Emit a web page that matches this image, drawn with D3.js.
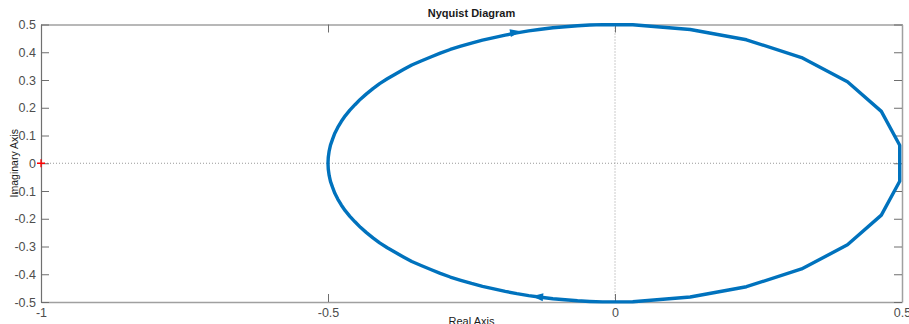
<!DOCTYPE html>
<html><head><meta charset="utf-8">
<script src="https://cdn.jsdelivr.net/npm/d3@7"></script>
<style>body{margin:0;background:#fff;}svg{display:block;}</style>
</head><body>
<script>
// Upper branch (negative frequencies), from -0.5 to the right end
const upperRe = [-0.5,-0.4995,-0.498,-0.4957,-0.492,-0.4881,-0.483,-0.4769,-0.470,-0.4619,-0.453,-0.4435,-0.433,-0.4217,-0.410,-0.3967,-0.383,-0.3686,-0.354,-0.3378,-0.321,-0.3044,-0.287,-0.2687,-0.250,-0.2309,-0.211,-0.1913,-0.171,-0.1504,-0.129,-0.1082,-0.087,-0.0653,-0.044,-0.0218,0.031,0.131,0.229,0.325,0.405,0.464,0.496];
const upperIm = [0,0.0218,0.044,0.0653,0.087,0.1082,0.129,0.1504,0.171,0.1913,0.211,0.2309,0.250,0.2687,0.287,0.3044,0.321,0.3378,0.354,0.3686,0.383,0.3967,0.410,0.4217,0.433,0.4435,0.453,0.4619,0.470,0.4769,0.483,0.4881,0.492,0.4957,0.498,0.4995,0.499,0.482,0.445,0.381,0.294,0.187,0.065];
// Lower branch (positive frequencies), from the right end back to -0.5
const lowerRe = [0.496,0.464,0.405,0.325,0.229,0.131,0.031,-0.0218,-0.044,-0.0653,-0.087,-0.1082,-0.129,-0.1504,-0.171,-0.1913,-0.211,-0.2309,-0.250,-0.2687,-0.287,-0.3044,-0.321,-0.3378,-0.354,-0.3686,-0.383,-0.3967,-0.410,-0.4217,-0.433,-0.4435,-0.453,-0.4619,-0.470,-0.4769,-0.483,-0.4881,-0.492,-0.4957,-0.498,-0.4995,-0.5];
const lowerIm = [-0.065,-0.187,-0.294,-0.381,-0.445,-0.482,-0.499,-0.4995,-0.498,-0.4957,-0.492,-0.4881,-0.483,-0.4769,-0.470,-0.4619,-0.453,-0.4435,-0.433,-0.4217,-0.410,-0.3967,-0.383,-0.3686,-0.354,-0.3378,-0.321,-0.3044,-0.287,-0.2687,-0.250,-0.2309,-0.211,-0.1913,-0.171,-0.1504,-0.129,-0.1082,-0.087,-0.0653,-0.044,-0.0218,0];
const xTicks = [-1,-0.5,0,0.5];
const xTickLabels = ["-1","-0.5","0","0.5"];
const yTicks = [-0.5,-0.4,-0.3,-0.2,-0.1,0,0.1,0.2,0.3,0.4,0.5];
const yTickLabels = ["-0.5","-0.4","-0.3","-0.2","-0.1","0","0.1","0.2","0.3","0.4","0.5"];
// arrows: [re, im, direction(+1 right / -1 left)]
const arrowRe = [-0.174, -0.134];
const arrowIm = [0.472, -0.481];
const arrowDir = [1, -1];
const criticalPoint = [-1, 0];

const W = 909, H = 324;
const L = 41, R = 902, T = 24.5, B = 302;
const svg = d3.select("body").append("svg").attr("width", W).attr("height", H);
const x = d3.scaleLinear().domain([-1, 0.5]).range([L, R]);
const y = d3.scaleLinear().domain([-0.5, 0.5]).range([B, T]);
const font = "Helvetica, Arial, 'Liberation Sans', sans-serif";
const tickCol = "#4d4d4d";

// zero lines
svg.append("line").attr("x1", L).attr("x2", R).attr("y1", y(0)).attr("y2", y(0))
  .attr("stroke", "#999").attr("stroke-width", 1).attr("stroke-dasharray", "1,2");
svg.append("line").attr("x1", x(0)).attr("x2", x(0)).attr("y1", T).attr("y2", B)
  .attr("stroke", "#999").attr("stroke-width", 1).attr("stroke-dasharray", "1,2");

// axes
const gB = svg.append("g").attr("transform", `translate(0,${B})`)
  .call(d3.axisBottom(x).tickValues(xTicks).tickFormat((d,i)=>xTickLabels[i]).tickSizeInner(-8).tickSizeOuter(0).tickPadding(4));
const gT = svg.append("g").attr("transform", `translate(0,${T})`)
  .call(d3.axisTop(x).tickValues(xTicks).tickFormat("").tickSizeInner(-8).tickSizeOuter(0));
const gL = svg.append("g").attr("transform", `translate(${L},0)`)
  .call(d3.axisLeft(y).tickValues(yTicks).tickFormat((d,i)=>yTickLabels[i]).tickSizeInner(-8).tickSizeOuter(0).tickPadding(5));
const gR = svg.append("g").attr("transform", `translate(${R},0)`)
  .call(d3.axisRight(y).tickValues(yTicks).tickFormat("").tickSizeInner(-8).tickSizeOuter(0));
[gB, gT, gL, gR].forEach(g => {
  g.select(".domain").attr("stroke", "#a0a0a0").attr("stroke-width", 1.5);
  g.selectAll(".tick line").attr("stroke", "#6e6e6e");
  g.selectAll("text").attr("fill", tickCol).style("font-family", font).style("font-size", "12.5px");
});
gL.select(".domain").attr("stroke", "#707070").attr("stroke-width", 1.2);
gB.selectAll("text").attr("dy", "0.9em");

// curve
const line = d3.line().x(d => x(d[0])).y(d => y(d[1]));
const pts = upperRe.map((r,i)=>[r, upperIm[i]]).concat(lowerRe.map((r,i)=>[r, lowerIm[i]]));
svg.append("path").datum(pts).attr("d", line).attr("fill", "none")
  .attr("stroke", "#0072BD").attr("stroke-width", 3.4).attr("stroke-linejoin", "round");

// arrows
arrowRe.forEach((r,i) => {
  const cx = x(r), cy = y(arrowIm[i]);
  const d = arrowDir[i];
  const ang = d > 0 ? -10 : 5;
  svg.append("path")
    .attr("d", `M${6*d},0 L${-5*d},-4 L${-5*d},4 Z`)
    .attr("transform", `translate(${cx},${cy}) rotate(${ang})`)
    .attr("fill", "#0072BD");
});

// critical point
const cpx = x(criticalPoint[0]), cpy = y(criticalPoint[1]);
svg.append("path").attr("d", `M${cpx-4},${cpy} H${cpx+4} M${cpx},${cpy-4} V${cpy+4}`)
  .attr("stroke", "#ff0000").attr("stroke-width", 1.3);

// title and labels
svg.append("text").attr("x", (L+R)/2).attr("y", 17).attr("text-anchor", "middle")
  .style("font-family", font).style("font-size", "11px").style("font-weight", "bold").attr("fill", "#1a1a1a")
  .text("Nyquist Diagram");
svg.append("text").attr("x", (L+R)/2).attr("y", 325).attr("text-anchor", "middle")
  .style("font-family", font).style("font-size", "11px").attr("fill", "#1a1a1a")
  .text("Real Axis");
svg.append("text").attr("transform", `translate(18,${y(0)}) rotate(-90)`).attr("text-anchor", "middle")
  .style("font-family", font).style("font-size", "10.5px").attr("fill", "#1a1a1a")
  .text("Imaginary Axis");
</script>
</body></html>
